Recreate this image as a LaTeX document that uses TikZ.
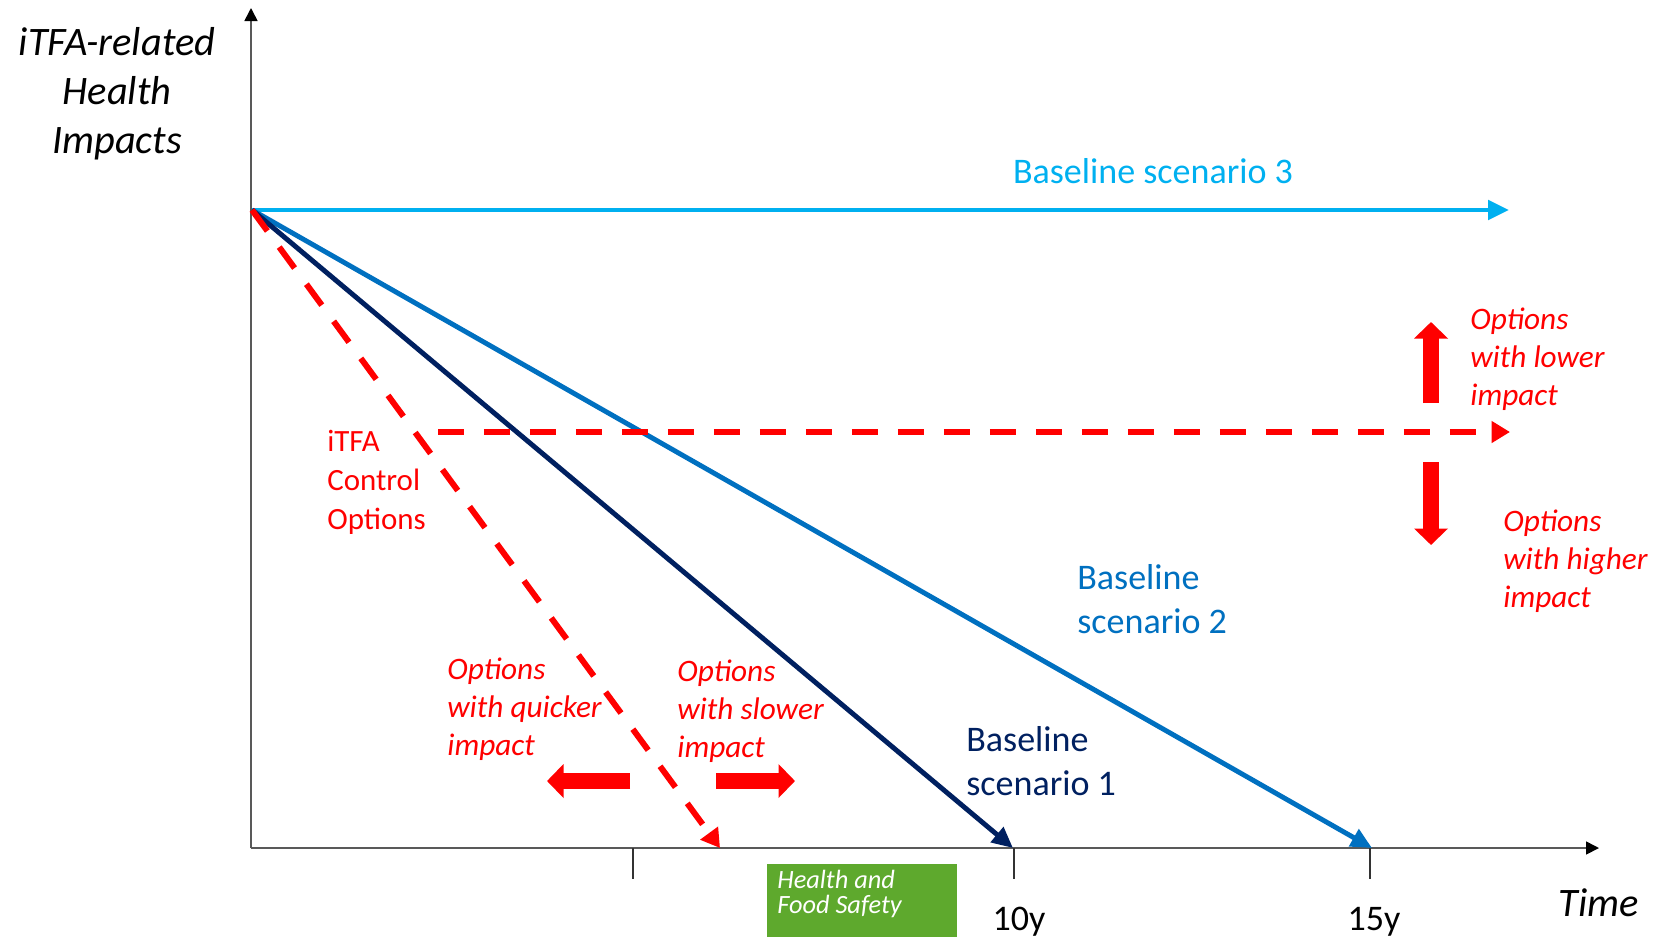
\documentclass[tikz,border=0pt]{standalone}
\usepackage{fontspec}
\setmainfont{Carlito}
\usetikzlibrary{arrows.meta}

\definecolor{scenone}{HTML}{002060}
\definecolor{scentwo}{HTML}{0070C0}
\definecolor{scenthree}{HTML}{00B0F0}
\definecolor{optred}{HTML}{FF0000}
\definecolor{hfsgreen}{HTML}{5EA92D}
\definecolor{axisgray}{HTML}{595959}

\tikzset{
  axis/.style={draw=axisgray, line width=0.9pt, -{Triangle[length=0.26cm,width=0.26cm,black]}},
  tick/.style={draw=black!80, line width=0.9pt},
  scen/.style={line width=2.8pt, -{Triangle[length=0.42cm,width=0.38cm]}},
  ctrl/.style={draw=optred, line width=3.4pt, dash pattern=on 0.52cm off 0.4cm, -{Triangle[length=0.37cm,width=0.42cm]}},
  block/.style={draw=optred, line width=0.33cm, -{Triangle[length=0.33cm,width=0.66cm]}},
  opt/.style={text=optred, anchor=base west, align=left, inner sep=0pt, font=\fontsize{17.8}{21.6}\selectfont\itshape},
  scenlab/.style={anchor=base west, align=left, inner sep=0pt, font=\fontsize{20.5}{25}\selectfont},
}

\begin{document}
\begin{tikzpicture}[x=0.02cm, y=-0.02cm]
    \newcommand{\xo}{251}
    \newcommand{\yo}{848}
    \newcommand{\ys}{210}
    \useasboundingbox (0,0) rectangle (1655,937);

    % axes
    \coordinate (O) at (\xo,\yo);
    \coordinate (ytop) at (\xo,8);
    \coordinate (xend) at (1599,\yo);
    \draw[axis] (O) -- (ytop);
    \draw[axis] (O) -- (xend);
    % (base = last line of a multi-line node)
    \node[anchor=base, align=center, inner sep=0pt, font=\fontsize{23}{27.8}\selectfont\itshape] (ylab) at (117,153) {iTFA-related\\Health\\Impacts};
    \node[anchor=base, inner sep=0pt, font=\fontsize{23}{27.8}\selectfont\itshape] (xlab) at (1599,916) {Time};

    % ticks
    \foreach \tx/\tn in {633/a, 1014/b, 1370/c} {
        \coordinate (tick\tn) at (\tx,\yo);
        \coordinate (tickend\tn) at (\tx,879);
        \draw[tick] (tick\tn) -- (tickend\tn);
    }
    \node[anchor=base, inner sep=0pt, font=\fontsize{20.5}{25}\selectfont] (lab10) at (1019,930) {10y};
    \node[anchor=base, inner sep=0pt, font=\fontsize{20.5}{25}\selectfont] (lab15) at (1374,930) {15y};

    % baseline scenarios
    \coordinate (S) at (\xo+1,\ys);
    \coordinate (end3) at (1509,\ys);
    \coordinate (end2) at (1372,\yo);
    \coordinate (end1) at (1013,\yo);
    \draw[scen, scenthree] (S) -- (end3);
    \draw[scen, scentwo] (S) -- (end2);
    \draw[scen, scenone] (S) -- (end1);
    \node[anchor=base, inner sep=0pt, text=scenthree, font=\fontsize{20.5}{25}\selectfont] (lab3) at (1153,183) {Baseline scenario 3};
    \node[scenlab, text=scentwo] (lab2) at (1077,633) {Baseline\\scenario 2};
    \node[scenlab, text=scenone] (lab1) at (966,795) {Baseline\\scenario 1};

    % control options
    \coordinate (endq) at (720,\yo);
    \coordinate (hstart) at (438,432);
    \coordinate (hend) at (1510,432);
    \draw[ctrl] (S) -- (endq);
    \draw[ctrl] (hstart) -- (hend);
    \node[anchor=base west, align=left, inner sep=0pt, text=optred, font=\fontsize{17.6}{22}\selectfont] (ctrllab) at (327,529) {iTFA\\Control\\Options};

    % block arrows
    \coordinate (up0) at (1431,403);
    \coordinate (up1) at (1431,322);
    \coordinate (dn0) at (1431,462);
    \coordinate (dn1) at (1431,545);
    \coordinate (lt0) at (630,781);
    \coordinate (lt1) at (547,781);
    \coordinate (rt0) at (716,781);
    \coordinate (rt1) at (795,781);
    \draw[block] (up0) -- (up1);
    \draw[block] (dn0) -- (dn1);
    \draw[block] (lt0) -- (lt1);
    \draw[block] (rt0) -- (rt1);

    % option labels
    \node[opt] (lower) at (1470,405) {Options\\with lower\\impact};
    \node[opt] (higher) at (1503,607) {Options\\with higher\\impact};
    \node[opt] (quicker) at (447,755) {Options\\with quicker\\impact};
    \node[opt] (slower) at (677,757) {Options\\with slower\\impact};

    % logo box
    \node[fill=hfsgreen, anchor=north west, minimum width=3.8cm, minimum height=1.46cm, inner sep=0pt] (hfsbox) at (767,864) {};
    \node[anchor=base west, align=left, inner sep=0pt, text=white, font=\fontsize{15}{14}\selectfont\itshape] (hfs) at (777,913) {Health and\\Food Safety};
\end{tikzpicture}
\end{document}
